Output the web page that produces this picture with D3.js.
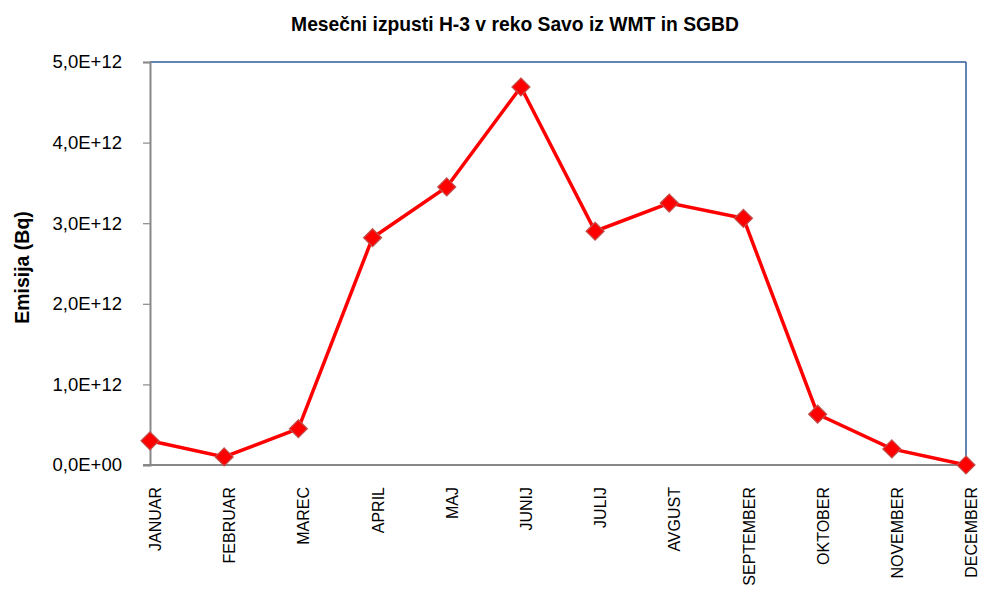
<!DOCTYPE html>
<html>
<head>
<meta charset="utf-8">
<script src="https://cdn.jsdelivr.net/npm/d3@7"></script>
<style>
  body { margin: 0; background: #fff; }
  text { font-family: "Liberation Sans", Arial, sans-serif; }
</style>
</head>
<body>
<div id="canvas"></div>
<script>
"use strict"

// months and monthly emissions (in 1E12 Bq)
let months = ["JANUAR", "FEBRUAR", "MAREC", "APRIL", "MAJ", "JUNIJ",
              "JULIJ", "AVGUST", "SEPTEMBER", "OKTOBER", "NOVEMBER", "DECEMBER"]
let emission = [0.30, 0.10, 0.45, 2.82, 3.45, 4.69, 2.90, 3.25, 3.06, 0.63, 0.20, 0.0]
let yTicks = [0, 1, 2, 3, 4, 5]

let width = 981
let height = 590
let plotLeft = 150, plotRight = 966, plotTop = 62, plotBottom = 465

let drawing = d3.select("#canvas")
    .append("svg")
    .attr("width", width)
    .attr("height", height)

let x = d3.scalePoint()
    .domain(months)
    .range([plotLeft, plotRight])
    .padding(0)

let y = d3.scaleLinear()
    .domain([0, 5])
    .range([plotBottom, plotTop])

/* top and right frame lines are blue */
drawing.append("line")
    .attr("x1", plotLeft).attr("y1", plotTop)
    .attr("x2", plotRight).attr("y2", plotTop)
    .attr("stroke", "#2f5a96")
    .attr("stroke-width", 1.5)
drawing.append("line")
    .attr("x1", plotRight).attr("y1", plotTop)
    .attr("x2", plotRight).attr("y2", plotBottom)
    .attr("stroke", "#2f5a96")
    .attr("stroke-width", 1.5)

/* y axis */
let yAxis = drawing.append("g")
    .attr("transform", "translate(" + plotLeft + ",0)")
    .call(d3.axisLeft(y)
        .tickValues(yTicks)
        .tickSize(7)
        .tickPadding(21)
        .tickFormat(d => d.toFixed(1).replace(".", ",") + "E+" + (d === 0 ? "00" : "12")))
yAxis.select(".domain").attr("stroke", "#888").attr("stroke-width", 2)
yAxis.selectAll(".tick line").attr("stroke", "#888").attr("stroke-width", 1.2)
yAxis.selectAll(".tick text")
    .attr("font-size", 18.5)
    .attr("fill", "#000")
    .attr("font-family", "Liberation Sans, Arial, sans-serif")

/* x axis */
let xAxis = drawing.append("g")
    .attr("transform", "translate(0," + plotBottom + ")")
    .call(d3.axisBottom(x).tickSize(0).tickPadding(0))
xAxis.select(".domain")
    .attr("d", "M" + (plotLeft - 7) + ",0H" + plotRight)
    .attr("stroke", "#888").attr("stroke-width", 2)
xAxis.selectAll(".tick text")
    .attr("transform", "rotate(-90)")
    .attr("x", -22)
    .attr("y", 5)
    .attr("dy", "0.35em")
    .attr("text-anchor", "end")
    .attr("font-size", 16)
    .attr("fill", "#000")
    .attr("font-family", "Liberation Sans, Arial, sans-serif")

/* the red line */
let line = d3.line()
    .x((d, i) => x(months[i]))
    .y(d => y(d))

drawing.append("path")
    .datum(emission)
    .attr("d", line)
    .attr("fill", "none")
    .attr("stroke", "#ff0000")
    .attr("stroke-width", 3.5)

/* diamond markers */
drawing.selectAll(".marker")
    .data(emission)
    .enter()
    .append("path")
    .attr("class", "marker")
    .attr("transform", (d, i) => "translate(" + x(months[i]) + "," + y(d) + ")")
    .attr("d", "M0,-9L9,0L0,9L-9,0Z")
    .attr("fill", "#ff0000")
    .attr("stroke", "#c0504d")
    .attr("stroke-width", 1.2)

/* title */
drawing.append("text")
    .attr("x", 515)
    .attr("y", 31)
    .attr("text-anchor", "middle")
    .attr("font-size", 19.3)
    .attr("font-weight", "bold")
    .text("Mesečni izpusti H-3 v reko Savo iz WMT in SGBD")

/* y label */
drawing.append("text")
    .attr("transform", "translate(29," + ((plotTop + plotBottom) / 2 + 4) + ") rotate(-90)")
    .attr("text-anchor", "middle")
    .attr("font-size", 19.5)
    .attr("font-weight", "bold")
    .text("Emisija (Bq)")
</script>
</body>
</html>
